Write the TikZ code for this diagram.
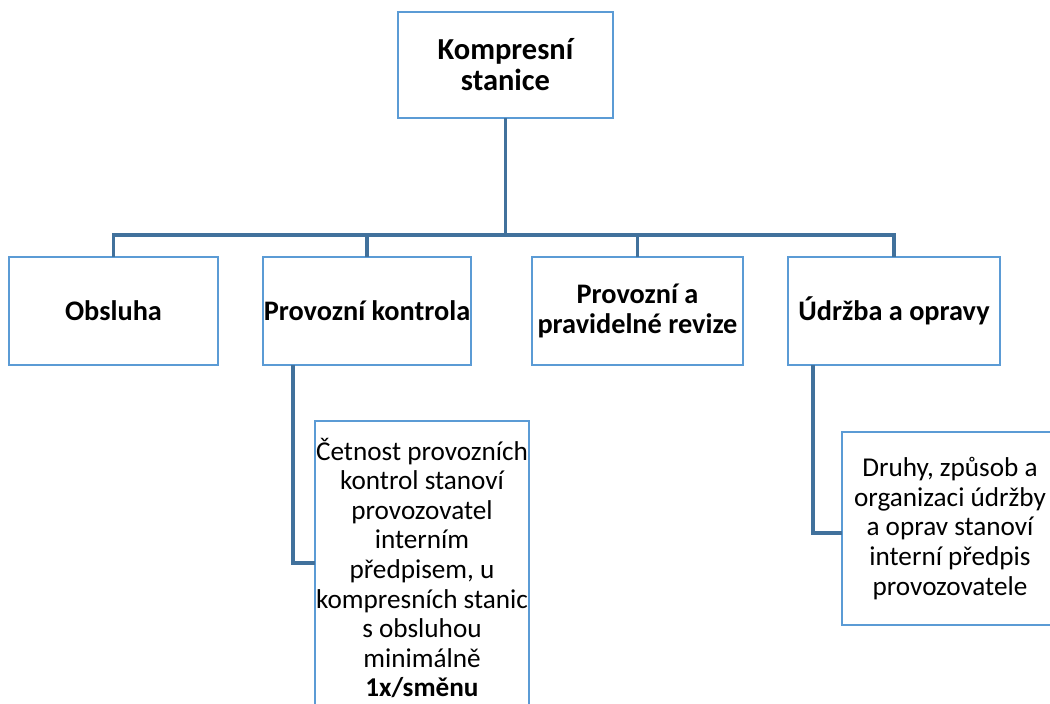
\documentclass[tikz,border=0pt]{standalone}
\usepackage{fontspec}
\setmainfont{Carlito}
\usetikzlibrary{calc}
\definecolor{boxblue}{RGB}{91,155,213}
\definecolor{linkblue}{RGB}{65,113,156}
\begin{document}
\begin{tikzpicture}[x=1pt,y=-1pt,
  box/.style={draw=boxblue,line width=2.6pt,fill=white,inner sep=0pt,outer sep=0pt,
    align=center,minimum width=#1},
  head/.style={box=#1,minimum height=108pt,font={\fontsize{28.3}{30}\selectfont\bfseries}},
  note/.style={box=#1,font={\fontsize{27.2}{29.6}\selectfont}},
  conn/.style={draw=linkblue,line width=3.2pt}]
\useasboundingbox (0,0) rectangle (1050,704);
\clip (0,0) rectangle (1050,704);

% root
\node[head=215pt,minimum height=106pt,font={\fontsize{30.5}{31}\selectfont\bfseries}] (top) at (505.5,65) {Kompresní\\stanice};

% first level
\node[head=209pt] (ob) at (113.5,311) {Obsluha};
\node[head=208pt] (pk) at (367,311) {Provozní kontrola};
\node[head=211pt] (pr) at (637.5,311) {Provozní a\\pravidelné revize};
\node[head=212pt] (ud) at (894,311) {Údržba a opravy};

% detail boxes
\node[note=214pt,minimum height=294pt] (c1) at (422,568)
  {Četnost provozních\\kontrol stanoví\\provozovatel\\interním\\předpisem, u\\kompresních stanic\\s obsluhou\\minimálně\\\textbf{1x/směnu}};
\node[note=216pt,minimum height=193pt] (c2) at (950,528.5)
  {Druhy, způsob a\\organizaci údržby\\a oprav stanoví\\interní předpis\\provozovatele};

% connectors
\coordinate (bar) at (505.5,235);
\draw[conn] (top.south) -- (bar);
\draw[conn] (ob.north) |- (bar) -| (ud.north);
\draw[conn] (pk.north) -- (pk.north |- bar);
\draw[conn] (pr.north) -- (pr.north |- bar);
\draw[conn] ([xshift=30pt]pk.south west) |- ([yshift=-142pt]c1.north west);
\draw[conn] ([xshift=25pt]ud.south west) |- ([yshift=-101pt]c2.north west);
\end{tikzpicture}
\end{document}
